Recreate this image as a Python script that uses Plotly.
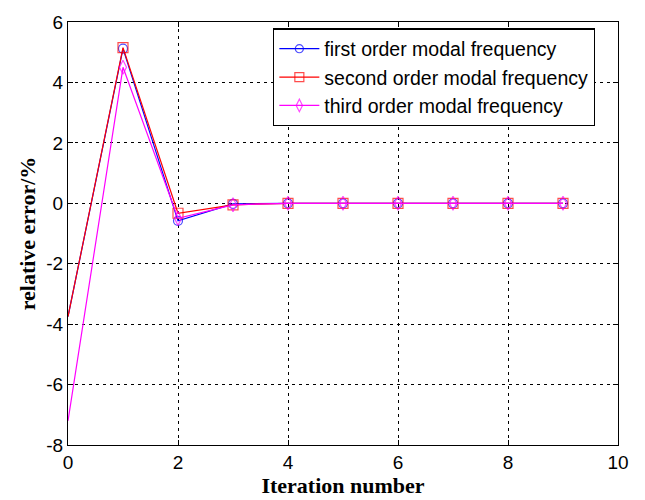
import plotly.graph_objects as go

iterations = [0, 1, 2, 3, 4, 5, 6, 7, 8, 9]
first_order = [-3.75, 5.12, -0.58, -0.02, 0, 0, 0, 0, 0, 0]
second_order = [-3.75, 5.15, -0.33, -0.05, 0, 0, 0, 0, 0, 0]
third_order = [-7.2, 4.5, -0.5, -0.05, 0, 0, 0, 0, 0, 0]
series_names = ["first order modal frequency", "second order modal frequency", "third order modal frequency"]
x_ticks = [0, 2, 4, 6, 8, 10]
y_ticks = [-8, -6, -4, -2, 0, 2, 4, 6]

fig = go.Figure()
styles = [
    ("blue", "circle-open", first_order, 9),
    ("red", "square-open", second_order, 10),
    ("magenta", "diamond-tall-open", third_order, 10),
]
for name, (color, sym, vals, ms) in zip(series_names, styles):
    sizes = [0] + [ms] * (len(iterations) - 1)
    fig.add_trace(go.Scatter(
        x=iterations, y=vals, name=name, mode="lines+markers",
        line=dict(color=color, width=1.2),
        marker=dict(symbol=sym, size=sizes, color=color, line=dict(width=1.2, color=color)),
    ))

axis_common = dict(
    showline=True, linecolor="black", linewidth=1.2, mirror="ticks",
    ticks="inside", ticklen=5, tickcolor="black",
    showgrid=True, gridcolor="black", griddash="3px,4px", gridwidth=1,
    zeroline=False,
    tickfont=dict(family="Liberation Sans, Arial", size=19, color="black"),
)
title_font = dict(family="Liberation Serif, Times New Roman", size=22, color="black")
fig.update_xaxes(range=[0, 10], tickvals=x_ticks, ticktext=[str(v) for v in x_ticks],
                 title=dict(text="<b>Iteration number</b>", standoff=0, font=title_font),
                 **axis_common)
fig.update_yaxes(range=[-8, 6], tickvals=y_ticks, ticktext=[str(v) for v in y_ticks],
                 title=dict(text="<b>relative error/%</b>", standoff=4, font=title_font),
                 **axis_common)
fig.update_traces(cliponaxis=False)

fig.update_layout(
    width=645, height=500,
    margin=dict(l=68, r=27, t=20, b=50),
    paper_bgcolor="white", plot_bgcolor="white",
    font=dict(family="Liberation Sans, Arial", color="black"),
    legend=dict(
        x=0.373, y=0.985, xanchor="left", yanchor="top",
        bgcolor="white", bordercolor="black", borderwidth=1.2,
        font=dict(family="Liberation Sans, Arial", size=19.5, color="black"),
        tracegroupgap=0, itemwidth=40,
    ),
    showlegend=True,
)
fig.write_html("out.html")
